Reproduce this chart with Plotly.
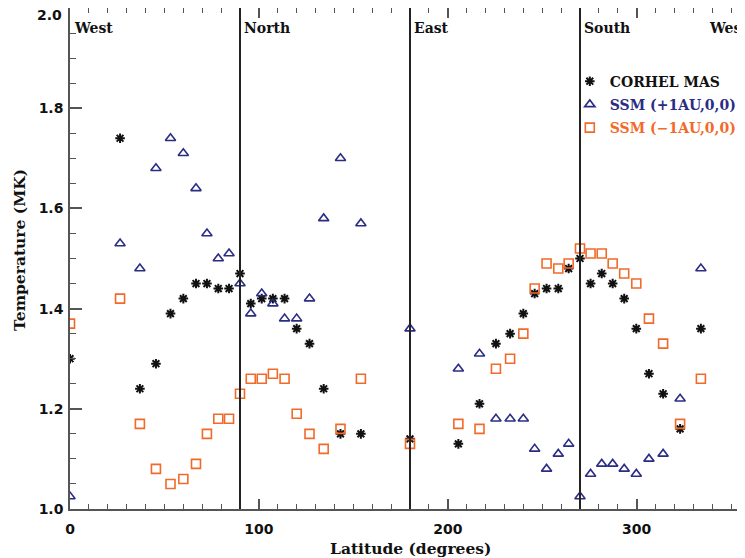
import plotly.graph_objects as go

# Latitude positions (degrees)
latitude = [0, 26.5, 37, 45.5, 53.2, 60, 66.7, 72.5, 78.5, 84.2, 90,
            95.7, 101.5, 107.4, 113.6, 120, 126.8, 134.3, 143.2, 154, 180,
            205.6, 216.8, 225.5, 233, 240, 246, 252.3, 258.5, 264, 270,
            275.6, 281.5, 287.3, 293.4, 299.8, 306.5, 314, 323, 334]

corhel_mas = [1.30, 1.74, 1.24, 1.29, 1.39, 1.42, 1.45, 1.45, 1.44, 1.44, 1.47,
              1.41, 1.42, 1.42, 1.42, 1.36, 1.33, 1.24, 1.15, 1.15, 1.14,
              1.13, 1.21, 1.33, 1.35, 1.39, 1.43, 1.44, 1.44, 1.48, 1.50,
              1.45, 1.47, 1.45, 1.42, 1.36, 1.27, 1.23, 1.16, 1.36]

ssm_plus = [1.025, 1.53, 1.48, 1.68, 1.74, 1.71, 1.64, 1.55, 1.50, 1.51, 1.45,
            1.39, 1.43, 1.41, 1.38, 1.38, 1.42, 1.58, 1.70, 1.57, 1.36,
            1.28, 1.31, 1.18, 1.18, 1.18, 1.12, 1.08, 1.11, 1.13, 1.025,
            1.07, 1.09, 1.09, 1.08, 1.07, 1.10, 1.11, 1.22, 1.48]

ssm_minus = [1.37, 1.42, 1.17, 1.08, 1.05, 1.06, 1.09, 1.15, 1.18, 1.18, 1.23,
             1.26, 1.26, 1.27, 1.26, 1.19, 1.15, 1.12, 1.16, 1.26, 1.13,
             1.17, 1.16, 1.28, 1.30, 1.35, 1.44, 1.49, 1.48, 1.49, 1.52,
             1.51, 1.51, 1.49, 1.47, 1.45, 1.38, 1.33, 1.17, 1.26]

x_ticks = [0, 100, 200, 300]
y_ticks = [1.0, 1.2, 1.4, 1.6, 1.8, 2.0]
y_ticktext = ["1.0", "1.2", "1.4", "1.6", "1.8", ""]
top_label = "2.0"

boundaries = [90, 180, 270]
region_names = ["West", "North", "East", "South", "West"]
region_pos = [0, 90, 180, 270, 360]

NAVY = "#2b2d84"
ORANGE = "#f26a2a"
SLAB = "DejaVu Serif"
SANS = "DejaVu Sans"

fig = go.Figure()

fig.add_trace(go.Scatter(
    x=latitude, y=corhel_mas, mode="markers", name="CORHEL MAS",
    legendgroup="a",
    marker=dict(symbol="asterisk-open", size=8, color="#111111",
                line=dict(width=2, color="#111111"))))
fig.add_trace(go.Scatter(
    x=latitude, y=ssm_plus, mode="markers",
    name=f"<span style='color:{NAVY}'>SSM (+1AU,0,0)</span>",
    legendgroup="b",
    marker=dict(symbol="triangle-up-open", size=9, color=NAVY,
                line=dict(width=1.6, color=NAVY))))
fig.add_trace(go.Scatter(
    x=latitude, y=ssm_minus, mode="markers",
    name=f"<span style='color:{ORANGE}'>SSM (\u22121AU,0,0)</span>",
    legendgroup="c",
    marker=dict(symbol="square-open", size=9, color=ORANGE,
                line=dict(width=1.6, color=ORANGE))))

for b in boundaries:
    fig.add_vline(x=b, line=dict(color="#222222", width=2))

for name, pos in zip(region_names, region_pos):
    fig.add_annotation(x=pos, y=1.96, xref="x", yref="y", text=name,
                       showarrow=False,
                       xanchor="left" if pos < 360 else "right",
                       xshift=2 if pos < 360 else 0,
                       yanchor="middle",
                       font=dict(family=SLAB, size=14, color="#111111",
                                 weight="bold"))

fig.add_annotation(x=0.5, y=0, xref="paper", yref="paper",
                   text="Latitude (degrees)", showarrow=False,
                   yanchor="middle", yshift=-39,
                   font=dict(family=SLAB, size=15.5, color="#111111",
                             weight="bold"))
fig.add_annotation(x=0, y=0.517, xref="paper", yref="paper",
                   text="Temperature (MK)", showarrow=False, textangle=-90,
                   xanchor="center", yanchor="middle", xshift=-50,
                   font=dict(family=SLAB, size=15.5, color="#111111",
                             weight="bold"))
fig.add_annotation(x=0, y=1, xref="paper", yref="paper",
                   text=top_label, showarrow=False,
                   xanchor="right", yanchor="middle", xshift=-6, yshift=-7,
                   font=dict(family=SANS, size=14, color="#111111",
                             weight="bold"))

axis_common = dict(showgrid=False, zeroline=False, showline=True,
                   automargin=False,
                   linecolor="#555555", linewidth=1.5, mirror="ticks",
                   ticks="inside", tickcolor="#555555", tickwidth=1.5,
                   tickfont=dict(family=SANS, size=14, color="#111111",
                                 weight="bold"))

fig.update_xaxes(range=[0, 360], tickvals=x_ticks, ticklen=10,
                 ticklabelstandoff=6,
                 minor=dict(dtick=10, tick0=0, ticklen=5, ticks="inside",
                            tickcolor="#555555", tickwidth=1.2),
                 **axis_common)
fig.update_yaxes(range=[1.0, 2.0], tickvals=y_ticks, ticktext=y_ticktext,
                 ticklen=12, ticklabelstandoff=2,
                 minor=dict(dtick=0.05, tick0=1.0, ticklen=6, ticks="inside",
                            tickcolor="#555555", tickwidth=1.2),
                 **axis_common)

fig.update_layout(
    width=745, height=558,
    margin=dict(l=62, r=3, t=0, b=57, autoexpand=False),
    paper_bgcolor="white", plot_bgcolor="white",
    showlegend=True,
    legend=dict(x=0.735, y=0.885, xanchor="left", yanchor="top",
                bgcolor="rgba(0,0,0,0)", borderwidth=0,
                tracegroupgap=2, itemwidth=30,
                font=dict(family=SLAB, size=14, color="#111111",
                          weight="bold")),
)

fig.write_html("out.html")
